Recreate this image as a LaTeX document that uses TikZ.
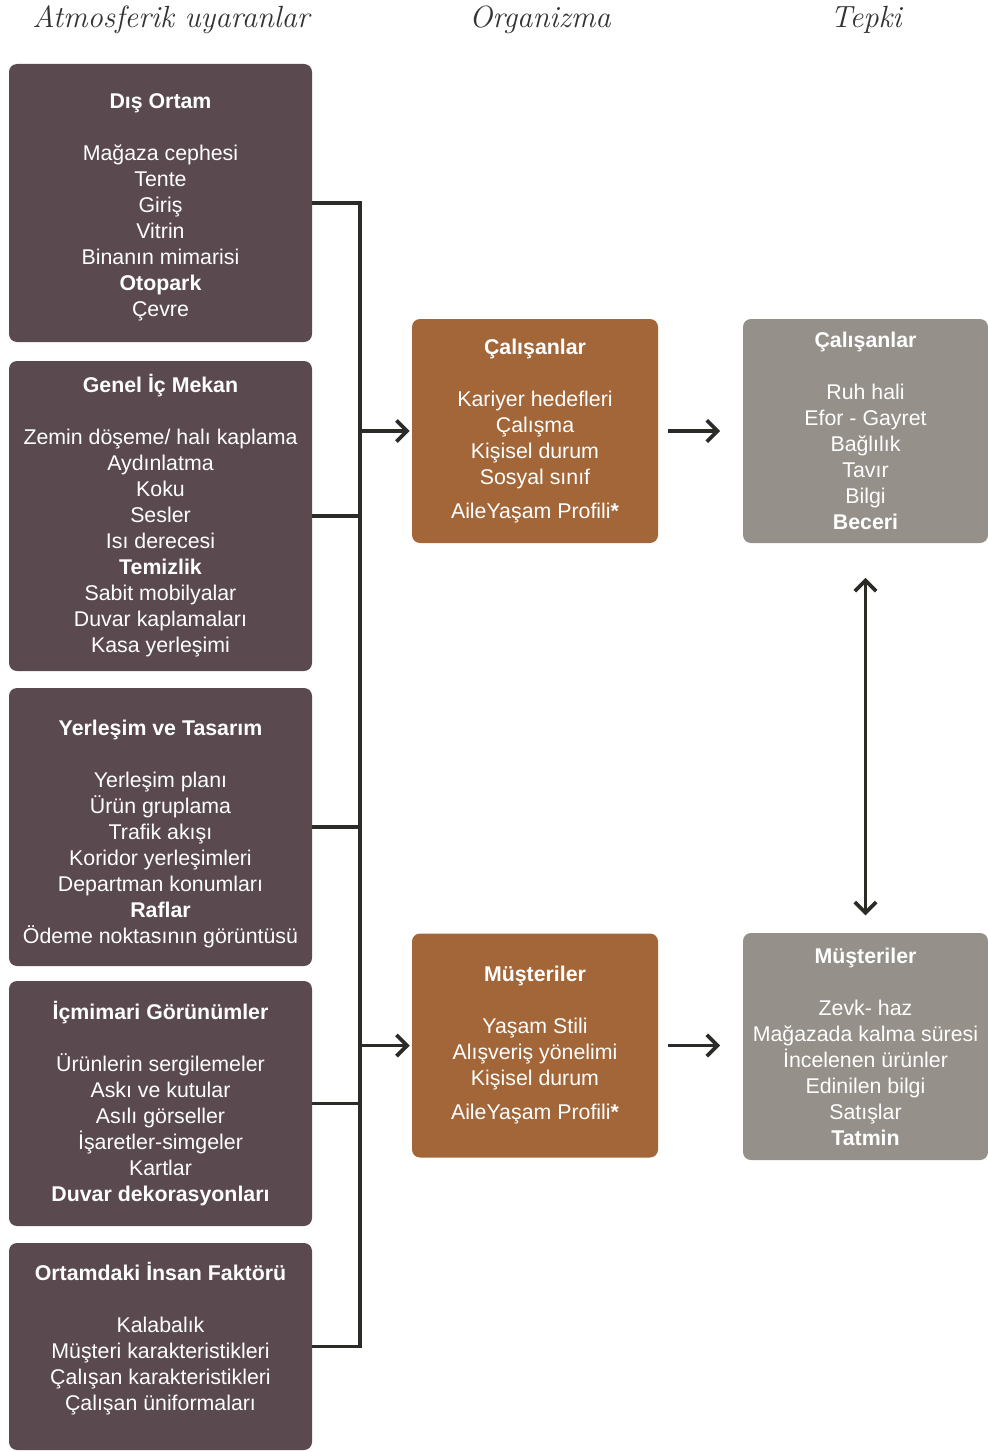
\documentclass[tikz,border=0pt]{standalone}
\usepackage{fontspec}
\newfontfamily\boxfont{Liberation Sans}
\usetikzlibrary{arrows.meta}
\definecolor{stimcol}{HTML}{5A4A4F}
\definecolor{orgcol}{HTML}{A36638}
\definecolor{respcol}{HTML}{959089}
\definecolor{linecol}{HTML}{2B2B28}
\tikzset{
  box/.style={rounded corners=6pt,text=white,align=center,inner sep=0pt,
    font=\boxfont\fontsize{16}{19.5}\selectfont},
  stim/.style={box,fill=stimcol,minimum width=227.25pt},
  org/.style={box,fill=orgcol,minimum width=184.5pt,minimum height=168pt},
  resp/.style={box,fill=respcol,minimum width=183.75pt},
  head/.style={font=\itshape\fontsize{23}{26}\selectfont,text=black!80},
  link/.style={linecol,line width=2.8pt},
  arr/.style={link,-{Straight Barb[length=8pt,width=16pt]}},
  darr/.style={link,{Straight Barb[length=8pt,width=16pt]}-{Straight Barb[length=8pt,width=16pt]}}
}
\begin{document}
\begin{tikzpicture}[x=0.75pt,y=-0.75pt]
\useasboundingbox (0,0) rectangle (988,1452);
% column heads
\node[head] (hstim) at (171,20) {Atmosferik uyaranlar};
\node[head] (horg) at (540,20) {Organizma};
\node[head] (hresp) at (866,20) {Tepki};
% stimuli
\node[stim,minimum height=208.5pt] (s1) at (160.5,203) {\mbox{}\\[-2pt]\textbf{Dış Ortam}\\[19.5pt]Mağaza cephesi\\Tente\\Giriş\\Vitrin\\Binanın mimarisi\\\textbf{Otopark}\\Çevre};
\node[stim,minimum height=232.5pt] (s2) at (160.5,516) {\textbf{Genel İç Mekan}\\[19.5pt]Zemin döşeme/ halı kaplama\\Aydınlatma\\Koku\\Sesler\\Isı derecesi\\\textbf{Temizlik}\\Sabit mobilyalar\\Duvar kaplamaları\\Kasa yerleşimi};
\node[stim,minimum height=208.5pt] (s3) at (160.5,827) {\mbox{}\\[2.5pt]\textbf{Yerleşim ve Tasarım}\\[19.5pt]Yerleşim planı\\Ürün gruplama\\Trafik akışı\\Koridor yerleşimleri\\Departman konumları\\\textbf{Raflar}\\Ödeme noktasının görüntüsü};
\node[stim,minimum height=183.75pt] (s4) at (160.5,1103.5) {\textbf{İçmimari Görünümler}\\[19.5pt]Ürünlerin sergilemeler\\Askı ve kutular\\Asılı görseller\\İşaretler-simgeler\\Kartlar\\\textbf{Duvar dekorasyonları}};
\node[stim,minimum height=155.25pt] (s5) at (160.5,1346.5) {\textbf{Ortamdaki İnsan Faktörü}\\[19.5pt]Kalabalık\\Müşteri karakteristikleri\\Çalışan karakteristikleri\\Çalışan üniformaları\\[-4pt]\mbox{}};
% organism
\node[org] (o1) at (535,431) {\textbf{Çalışanlar}\\[19.5pt]Kariyer hedefleri\\Çalışma\\Kişisel durum\\Sosyal sınıf\\[6pt]AileYaşam Profili\textbf{*}};
\node[org] (o2) at (535,1045.5) {\textbf{Müşteriler}\\[19.5pt]Yaşam Stili\\Alışveriş yönelimi\\Kişisel durum\\[6pt]AileYaşam Profili\textbf{*}};
% response
\node[resp,minimum height=168pt] (r1) at (865.5,431) {\textbf{Çalışanlar}\\[19.5pt]Ruh hali\\Efor - Gayret\\Bağlılık\\Tavır\\Bilgi\\\textbf{Beceri}};
\node[resp,minimum height=170.25pt] (r2) at (865.5,1046.5) {\textbf{Müşteriler}\\[19.5pt]Zevk- haz\\Mağazada kalma süresi\\İncelenen ürünler\\Edinilen bilgi\\Satışlar\\\textbf{Tatmin}};
% connectors
\coordinate (bus) at (360,0);
\draw[link] (s1.east) -- (s1.east -| bus) -- (s5.east -| bus) -- (s5.east);
\foreach \n in {s2,s3,s4} \draw[link] (\n.east) -- (\n.east -| bus);
\foreach \n in {o1,o2} \draw[arr,shorten >=1.5pt] (\n.west -| bus) -- (\n.west);
\draw[arr,shorten <=7.5pt,shorten >=17pt] (o1.east) -- (o1.east -| r1.west);
\draw[arr,shorten <=7.5pt,shorten >=17pt] (o2.east) -- (o2.east -| r2.west);
\draw[darr,shorten <=26pt,shorten >=13pt] (r1.south) -- (r2.north);
\end{tikzpicture}
\end{document}
